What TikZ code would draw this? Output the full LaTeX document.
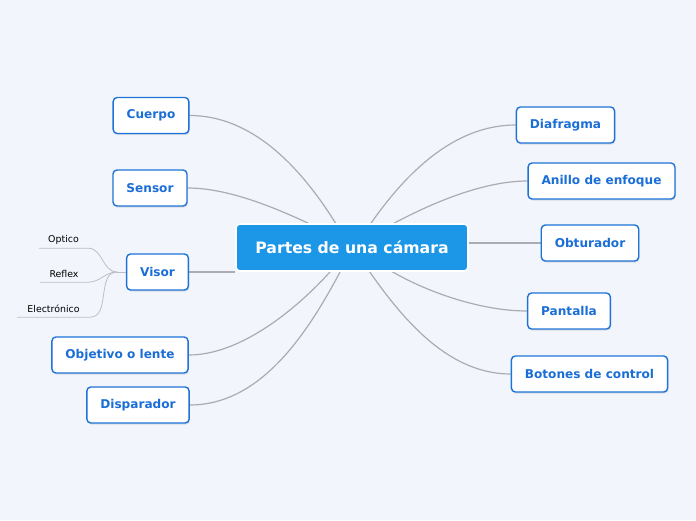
\documentclass[tikz,border=0pt]{standalone}
\usepackage{fontspec}
\setmainfont{DejaVu Sans}
\usepackage{tikz}
\usetikzlibrary{shadows,backgrounds}
\definecolor{mapback}{HTML}{F3F5FD}
\definecolor{mapcentre}{HTML}{1C96E6}
\definecolor{mapblue}{HTML}{1E73D8}
\definecolor{maptext}{HTML}{1A6ED6}
\definecolor{mapline}{HTML}{ABACB2}
\definecolor{mapsub}{HTML}{BDBEC4}

\begin{document}
\begin{tikzpicture}[x=1pt,y=1pt,
  centrebox/.style={fill=mapcentre, draw=white, line width=1.6pt, rounded corners=4pt,
    text=white, font=\fontsize{15.7}{18}\selectfont\bfseries,
    minimum width=232pt, minimum height=47pt, inner sep=0pt},
  topic/.style={fill=white, draw=mapblue, line width=1.4pt, rounded corners=4pt,
    text=maptext, font=\fontsize{12.1}{14}\selectfont\bfseries,
    minimum height=36pt, inner xsep=13.5pt, inner ysep=0pt,
    drop shadow={shadow xshift=0.8pt, shadow yshift=-1.6pt, opacity=0.22}},
  subtopic/.style={font=\fontsize{9.4}{11}\selectfont, text=black,
    minimum height=16pt, inner sep=0pt},
  branch/.style={draw=mapline, line width=1.2pt},
  twig/.style={draw=mapsub, line width=0.8pt}]

\useasboundingbox (0,0) rectangle (696,520);

\node[centrebox] (centre) at (352,272.5) {Partes de una cámara};

% left side
\node[topic] (cuerpo) at (151,404.5) {Cuerpo};
\node[topic] (sensor) at (150,332) {Sensor};
\node[topic] (visor) at (157.5,248) {Visor};
\node[topic] (objetivo) at (120,165) {Objetivo o lente};
\node[topic] (disparador) at (138,115) {Disparador};

% right side
\node[topic] (diafragma) at (565.5,395) {Diafragma};
\node[topic] (anillo) at (601.5,339) {Anillo de enfoque};
\node[topic] (obturador) at (590,277) {Obturador};
\node[topic] (pantalla) at (569,209) {Pantalla};
\node[topic] (botones) at (589.5,146) {Botones de control};

% visor details
\node[subtopic, minimum width=49pt] (optico) at (63.5,280) {Optico};
\node[subtopic, minimum width=48pt] (reflex) at (64,246) {Reflex};
\node[subtopic, minimum width=73pt] (electronico) at (53.5,211) {Electrónico};
\coordinate (vjoin) at (117,248);

\begin{scope}[on background layer]
\fill[mapback] (0,0) rectangle (696,520);
\draw[branch] (cuerpo.east) to[out=0, in=122, looseness=0.9] (centre.124);
\draw[branch] (sensor.east) to[out=0, in=155, looseness=0.8] (centre.151);
\draw[branch] (disparador.east) to[out=0, in=242, looseness=0.9] (centre.244);
\draw[branch] (objetivo.east) to[out=0, in=228, looseness=0.8] (centre.228);
\draw[branch] (centre.52) to[out=55, in=180, looseness=0.9] (diafragma.west);
\draw[branch] (centre.30) to[out=28, in=180, looseness=0.8] (anillo.west);
\draw[branch] (centre.-31) to[out=-30, in=180, looseness=0.8] (pantalla.west);
\draw[branch] (centre.-54) to[out=-55, in=180, looseness=0.9] (botones.west);
\draw[branch] (visor.east) -- (visor.east -| centre.west);
\draw[branch] (obturador.west) -- (obturador.west -| centre.east);
\end{scope}

\draw[twig] (optico.south west) -- (optico.south east) to[out=0, in=180] (vjoin);
\draw[twig] (reflex.south west) -- (reflex.south east) to[out=0, in=180] (vjoin);
\draw[twig] (electronico.south west) -- (electronico.south east) to[out=0, in=180] (vjoin);
\draw[twig] (vjoin) -- (visor.west);
\end{tikzpicture}
\end{document}
